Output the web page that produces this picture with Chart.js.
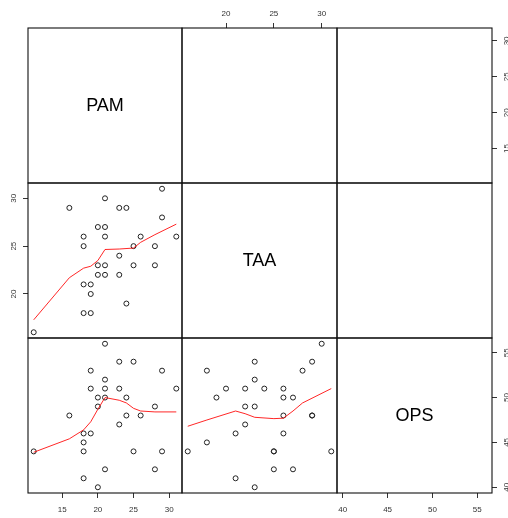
<!DOCTYPE html>
<html>
<head>
<meta charset="utf-8">
<script src="https://cdn.jsdelivr.net/npm/chart.js@4.4.0/dist/chart.umd.min.js"></script>
<style>
  html, body { margin: 0; padding: 0; background: #fff; overflow: hidden; }
  #wrap { position: relative; width: 508px; height: 518px; }
  #wrap canvas { position: absolute; }
</style>
</head>
<body>
<div id="wrap"></div>
<script>
// nama variabel (diagonal)
const varNames = ['PAM', 'TAA', 'OPS'];

// 30 observasi
const pam = [21, 23, 25, 19, 29, 21, 19, 21, 23, 31, 20, 21, 24, 20, 28, 16, 24, 26, 23, 18, 19, 18, 11, 18, 25, 29, 21, 28, 18, 20];
const taa = [30, 29, 23, 18, 28, 23, 20, 22, 24, 26, 27, 26, 19, 22, 23, 29, 29, 26, 22, 26, 21, 18, 16, 25, 25, 31, 27, 25, 21, 23];
const ops = [56, 54, 54, 53, 53, 52, 51, 51, 51, 51, 50, 50, 50, 49, 49, 48, 48, 48, 47, 46, 46, 45, 44, 44, 44, 44, 42, 42, 41, 40];

// garis merah (smoother)
const smPamTaaX = [11, 16, 18, 19, 20, 21, 23, 25, 26, 28, 31];
const smPamTaaY = [17.3, 21.7, 22.7, 22.9, 23.5, 24.65, 24.7, 24.8, 25.4, 26.2, 27.3];
const smPamOpsX = [11, 16, 18, 19, 20, 21, 23, 24, 25, 26, 28, 31];
const smPamOpsY = [43.9, 45.4, 46.4, 47.3, 48.7, 50.0, 49.7, 49.4, 48.8, 48.5, 48.4, 48.4];
const smTaaOpsX = [16, 18, 21, 22, 23, 25, 26, 27, 28, 31];
const smTaaOpsY = [46.8, 47.5, 48.5, 48.2, 47.8, 47.65, 47.7, 48.5, 49.4, 51.0];

// label tick
const pamTicks = [15, 20, 25, 30];
const taaTicks = [20, 25, 30];
const opsTicks = [40, 45, 50, 55];

const vars = [pam, taa, ops];
const tickSets = [pamTicks, taaTicks, opsTicks];

// batas panel (piksel)
const edgeX = [28, 182, 337, 492];
const edgeY = [28, 183, 338, 493];
const M = 3;    // margin supaya garis kotak tidak terpotong
const AX = 24;  // tinggi sumbu horizontal
const AY = 22;  // lebar sumbu vertikal

function range4(a) {
    const lo = Math.min(...a), hi = Math.max(...a);
    const d = (hi - lo) * 0.04;
    return [lo - d, hi + d];
}

function toPoints(xs, ys) {
    return xs.map((x, i) => ({ x: x, y: ys[i] }));
}

function noPad(s) {
    s.paddingTop = 0;
    s.paddingBottom = 0;
    s.paddingLeft = 0;
    s.paddingRight = 0;
}

const boxPlugin = {
    id: 'panelBox',
    afterDraw(chart, args, opts) {
        const a = chart.chartArea;
        const ctx = chart.ctx;
        ctx.save();
        ctx.strokeStyle = '#111';
        ctx.lineWidth = 1.1;
        ctx.strokeRect(a.left, a.top, a.right - a.left, a.bottom - a.top);
        if (opts.label) {
            ctx.fillStyle = '#000';
            ctx.font = '18px "Liberation Sans", Arial, sans-serif';
            ctx.textAlign = 'center';
            ctx.textBaseline = 'middle';
            ctx.fillText(opts.label, (a.left + a.right) / 2, (a.top + a.bottom) / 2 + 1);
        }
        ctx.restore();
    }
};

function axisOpts(pos, ticks, horizontal) {
    const o = {
        type: 'linear',
        display: !!pos,
        position: pos || (horizontal ? 'bottom' : 'left'),
        grid: { display: true, drawOnChartArea: false, drawTicks: true, tickLength: 5, color: '#333' },
        border: { display: false },
        ticks: {
            autoSkip: false,
            color: '#333',
            font: { size: 8, family: '"Liberation Sans", Arial, sans-serif' },
            padding: pos === 'bottom' ? 7 : 4
        },
        afterBuildTicks: s => { s.ticks = ticks.map(v => ({ value: v })); }
    };
    if (horizontal) {
        o.ticks.maxRotation = 0;
        o.ticks.minRotation = 0;
        o.afterFit = s => { noPad(s); if (pos) s.height = AX; };
    } else {
        o.ticks.maxRotation = 90;
        o.ticks.minRotation = 90;
        o.ticks.crossAlign = 'center';
        o.ticks.padding = 5;
        o.afterFit = s => { noPad(s); if (pos) s.width = AY; };
    }
    return o;
}

function makePanel(r, c, cfg) {
    const w = edgeX[c + 1] - edgeX[c];
    const h = edgeY[r + 1] - edgeY[r];
    const padL = M + (cfg.yAxis === 'left' ? AY : 0);
    const padR = M + (cfg.yAxis === 'right' ? AY : 0);
    const padT = M + (cfg.xAxis === 'top' ? AX : 0);
    const padB = M + (cfg.xAxis === 'bottom' ? AX : 0);

    const cv = document.createElement('canvas');
    cv.width = w + padL + padR;
    cv.height = h + padT + padB;
    cv.style.left = (edgeX[c] - padL) + 'px';
    cv.style.top = (edgeY[r] - padT) + 'px';
    document.getElementById('wrap').appendChild(cv);

    const xr = range4(vars[c]);
    const yr = range4(vars[r]);
    const xs = axisOpts(cfg.xAxis, tickSets[c], true);
    xs.min = xr[0]; xs.max = xr[1];
    const ys = axisOpts(cfg.yAxis, tickSets[r], false);
    ys.min = yr[0]; ys.max = yr[1];

    const datasets = [];
    if (cfg.smooth) {
        datasets.push({
            data: toPoints(cfg.smooth[0], cfg.smooth[1]),
            showLine: true,
            borderColor: 'rgba(255, 0, 0, 0.85)',
            borderWidth: 1,
            pointRadius: 0,
            tension: 0
        });
    }
    if (cfg.points) {
        datasets.push({
            data: toPoints(vars[c], vars[r]),
            pointRadius: 2.5,
            borderWidth: 1,
            borderColor: '#222',
            backgroundColor: 'rgba(0,0,0,0)'
        });
    }

    new Chart(cv, {
        type: 'scatter',
        data: { datasets: datasets },
        options: {
            responsive: false,
            animation: false,
            events: [],
            layout: { autoPadding: false, padding: { left: M, right: M, top: M, bottom: M } },
            scales: { x: xs, y: ys },
            plugins: {
                legend: { display: false },
                tooltip: { enabled: false },
                panelBox: { label: cfg.label || null }
            }
        },
        plugins: [boxPlugin]
    });
}

// baris 1
makePanel(0, 0, { label: varNames[0] });
makePanel(0, 1, { xAxis: 'top' });
makePanel(0, 2, { yAxis: 'right' });
// baris 2
makePanel(1, 0, { yAxis: 'left', points: true, smooth: [smPamTaaX, smPamTaaY] });
makePanel(1, 1, { label: varNames[1] });
makePanel(1, 2, {});
// baris 3
makePanel(2, 0, { xAxis: 'bottom', points: true, smooth: [smPamOpsX, smPamOpsY] });
makePanel(2, 1, { points: true, smooth: [smTaaOpsX, smTaaOpsY] });
makePanel(2, 2, { label: varNames[2], xAxis: 'bottom', yAxis: 'right' });
</script>
</body>
</html>
